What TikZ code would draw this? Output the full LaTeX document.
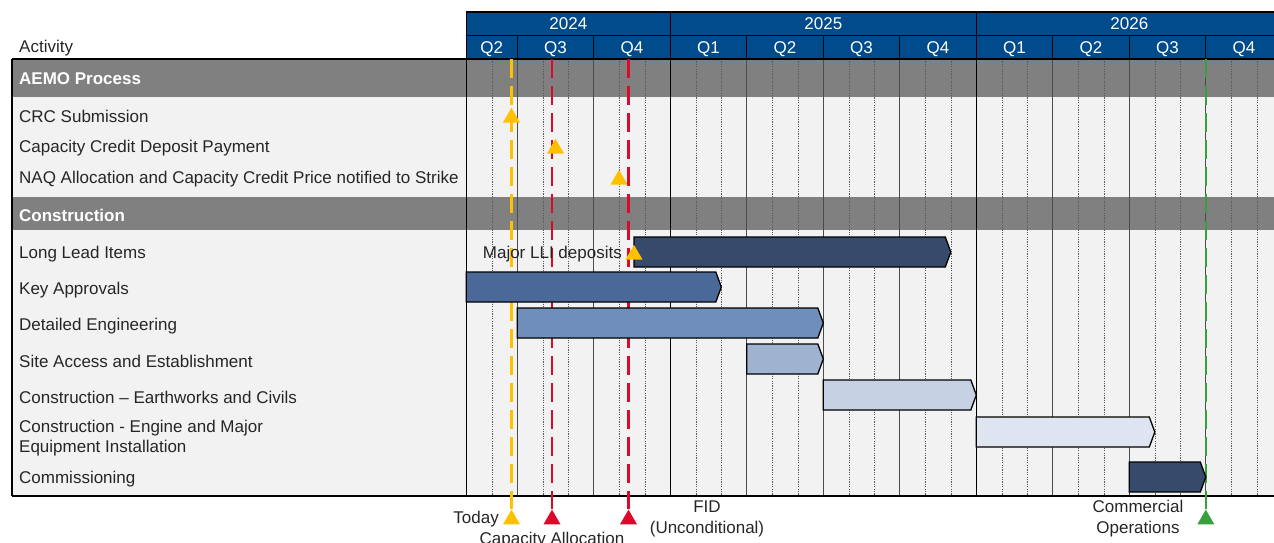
\documentclass[tikz,border=0pt]{standalone}
\usepackage{fontspec}
\setmainfont{Liberation Sans}
\usetikzlibrary{shapes.geometric}
\definecolor{hdrblue}{HTML}{004B8C}
\definecolor{bodygrey}{HTML}{F2F2F2}
\definecolor{bandgrey}{HTML}{808080}
\definecolor{msyellow}{HTML}{FFC000}
\definecolor{msred}{HTML}{DC0A2A}
\definecolor{msgreen}{HTML}{37A03A}
\definecolor{barA}{HTML}{364B6B}
\definecolor{barB}{HTML}{4A6898}
\definecolor{barC}{HTML}{6F8FBA}
\definecolor{barD}{HTML}{9FB2D0}
\definecolor{barE}{HTML}{C6D2E4}
\definecolor{barF}{HTML}{DEE5F0}
\tikzset{
  cell/.style={draw=black, line width=1.2pt, fill=hdrblue, text=white, inner sep=0pt, minimum height=23.5pt, text height=13pt, text depth=1pt},
  acttext/.style={anchor=west, inner sep=0pt, text=black!85, yshift=-1.5pt},
  bandtext/.style={anchor=west, inner sep=0pt, text=white, yshift=-1pt, font=\fontsize{17}{20}\selectfont\bfseries},
  qline/.style={draw=black!70, line width=0.9pt},
  yline/.style={draw=black, line width=1pt},
  mline/.style={draw=black!65, line width=0.6pt, dash pattern=on 1.2pt off 1.2pt},
  msdash/.style={line width=2.5pt, dash pattern=on 19pt off 8pt},
  mssolid/.style={line width=2.5pt},
  tri/.style={regular polygon, regular polygon sides=3, minimum size=19.6pt, inner sep=0pt, draw=none},
  gbar/.style={draw=black, line width=1.3pt, line join=miter},
  mslabel/.style={align=center, inner sep=0pt, text=black!85, font=\fontsize{17}{21}\selectfont}
}
\newcommand\ganttbar[4]{% x1, x2, ytop, colour
  \draw[gbar, fill=#4] (#1,#3) -- ({#2-5.5},#3) -- (#2,{#3+15}) -- ({#2-5.5},{#3+30}) -- (#1,{#3+30}) -- cycle;}
\begin{document}
\begin{tikzpicture}[x=1pt,y=-1pt, font=\fontsize{17}{20}\selectfont]
\useasboundingbox (0,0) rectangle (1274,542);
\begin{scope}
\clip (0,0) rectangle (1274,542);
% body
\fill[bodygrey] (12,59) rectangle (1290,496);
\fill[bandgrey] (12,59) rectangle (1290,96.5);
\fill[bandgrey] (12,196.5) rectangle (1290,229.5);
% grid lines
\foreach \m in {1,...,32} {
  \pgfmathsetmacro\xx{466.3+25.5*\m}
  \pgfmathtruncatemacro\r{mod(\m,3)}
  \ifnum\r=2
    \ifnum\m=8 \draw[yline] (\xx,59) -- (\xx,496);
    \else\ifnum\m=20 \draw[yline] (\xx,59) -- (\xx,496);
    \else \draw[qline] (\xx,59) -- (\xx,496); \fi\fi
  \else
    \draw[mline] (\xx,59) -- (\xx,496);
  \fi
}
% header
\node[cell, minimum width=204pt] (y2024) at (568.3,23.75) {2024};
\node[cell, minimum width=306pt] (y2025) at (823.3,23.75) {2025};
\node[cell, minimum width=306pt] (y2026) at (1129.3,23.75) {2026};
\node[cell, minimum width=51pt] (q2a) at (491.8,47.25) {Q2};
\node[cell, minimum width=76.5pt] (q3a) at (555.55,47.25) {Q3};
\node[cell, minimum width=76.5pt] (q4a) at (632.05,47.25) {Q4};
\node[cell, minimum width=76.5pt] (q1b) at (708.55,47.25) {Q1};
\node[cell, minimum width=76.5pt] (q2b) at (785.05,47.25) {Q2};
\node[cell, minimum width=76.5pt] (q3b) at (861.55,47.25) {Q3};
\node[cell, minimum width=76.5pt] (q4b) at (938.05,47.25) {Q4};
\node[cell, minimum width=76.5pt] (q1c) at (1014.55,47.25) {Q1};
\node[cell, minimum width=76.5pt] (q2c) at (1091.05,47.25) {Q2};
\node[cell, minimum width=76.5pt] (q3c) at (1167.55,47.25) {Q3};
\node[cell, minimum width=76.5pt] (q4c) at (1244.05,47.25) {Q4};
% table frame
\draw[black, line width=1.2pt] (12,59) -- (1290,59);
\draw[black, line width=1.2pt] (12,496) -- (1290,496);
\draw[black, line width=1.2pt] (12,59) -- (12,496);
\draw[black, line width=1.2pt] (466.3,59) -- (466.3,496);
% milestone lines
\coordinate (todaytop) at (511.5,59);   \coordinate (todaybot) at (511.5,496);
\coordinate (captop) at (552,59);       \coordinate (capbot) at (552,496);
\coordinate (fidtop) at (628.5,59);     \coordinate (fidbot) at (628.5,496);
\coordinate (codtop) at (1205.8,59);    \coordinate (codbot) at (1205.8,496);
\draw[msdash, msyellow] (todaytop) -- (todaybot);
\draw[msdash, msred] (captop) -- (capbot);
\draw[msdash, msred] (fidtop) -- (fidbot);
\draw[msdash, msgreen] (codtop) -- (codbot);
% bars
\ganttbar{634}{950.8}{237}{barA}
\ganttbar{466.3}{721.3}{272}{barB}
\ganttbar{517.3}{823.3}{308}{barC}
\ganttbar{746.8}{823.3}{344}{barD}
\ganttbar{823.3}{976.3}{380}{barE}
\ganttbar{976.3}{1154.8}{417}{barF}
\ganttbar{1129.3}{1205.8}{462}{barA}
% activity texts
\node[acttext] (hdract) at (19,47) {Activity};
\node[bandtext] (aemo) at (19,78) {AEMO Process};
\node[acttext] (crc) at (19,115) {CRC Submission};
\node[acttext] (ccdp) at (19,147) {Capacity Credit Deposit Payment};
\node[acttext] (naq) at (19,178) {NAQ Allocation and Capacity Credit Price notified to Strike};
\node[bandtext] (constr) at (19,214) {Construction};
\node[acttext] (lli) at (19,253) {Long Lead Items};
\node[acttext] (kapp) at (19,289) {Key Approvals};
\node[acttext] (deng) at (19,325) {Detailed Engineering};
\node[acttext] (site) at (19,360) {Site Access and Establishment};
\node[acttext] (earth) at (19,396) {Construction -- Earthworks and Civils};
\node[acttext, align=left, font=\fontsize{17}{20}\selectfont] (engine) at (19,437) {Construction - Engine and Major\\Equipment Installation};
\node[acttext] (comm) at (19,478) {Commissioning};
\node[acttext, anchor=east] (llidep) at (622,253) {Major LLI deposits};
% row milestones
\node[tri, fill=msyellow] (tcrc) at (511.5,117.6) {};
\node[tri, fill=msyellow] (tccdp) at (555.5,148.6) {};
\node[tri, fill=msyellow] (tnaq) at (619,179.6) {};
\node[tri, fill=msyellow] (tlli) at (634,254.6) {};
% bottom milestones
\node[tri, fill=msyellow] (ttoday) at (511.5,519.4) {};
\node[tri, fill=msred] (tcap) at (552,519.4) {};
\node[tri, fill=msred] (tfid) at (628.5,519.4) {};
\node[tri, fill=msgreen] (tcod) at (1205.8,519.4) {};
\draw[mssolid, msyellow] (todaybot) -- (ttoday.corner 1);
\draw[mssolid, msred] (capbot) -- (tcap.corner 1);
\draw[mssolid, msred] (fidbot) -- (tfid.corner 1);
\draw[mssolid, msgreen] (codbot) -- (tcod.corner 1);
\node[mslabel, anchor=east] (ltoday) at (499,519.5) {Today};
\node[mslabel] (lcap) at (552,540) {Capacity Allocation};
\node[mslabel] (lfid) at (707,519) {FID\\(Unconditional)};
\node[mslabel] (lcod) at (1138,519) {Commercial\\Operations};
\end{scope}
\end{tikzpicture}
\end{document}
